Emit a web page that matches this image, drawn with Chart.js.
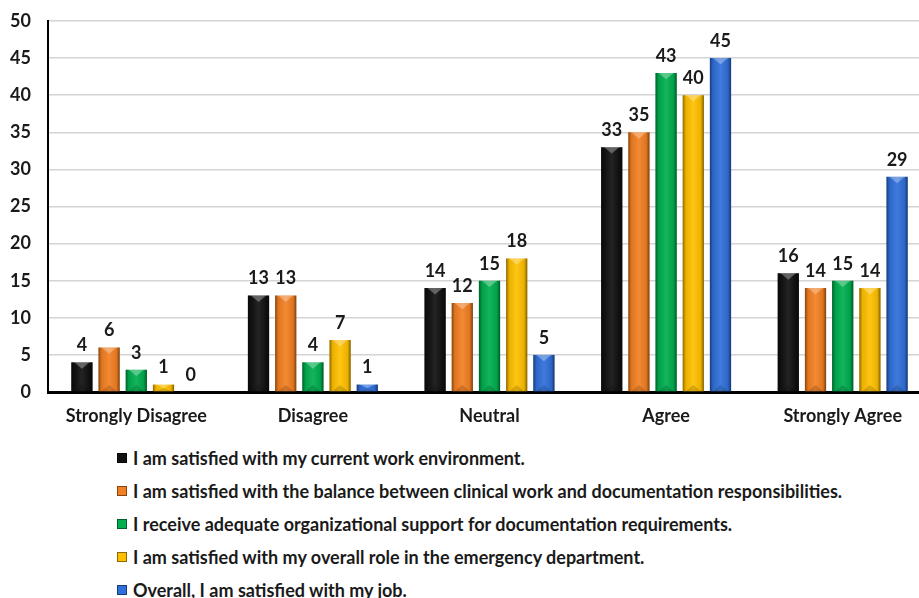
<!DOCTYPE html>
<html>
<head>
<meta charset="utf-8">
<script src="https://cdn.jsdelivr.net/npm/chart.js@4/dist/chart.umd.min.js"></script>
<style>
  html, body { margin: 0; padding: 0; background: #fff; overflow: hidden; width: 919px; height: 598px; }
  #wrap { position: relative; width: 931px; height: 432px; }
  #legend { margin: 9px 0 0 117px; font-family: Lato, "Open Sans", sans-serif; font-weight: bold; font-size: 18px; color: #1a1a1a; }
  .item { display: flex; align-items: center; height: 33px; white-space: nowrap; }
  .box { width: 10px; height: 10px; margin-right: 6px; box-sizing: border-box; border: 1px solid rgba(0,0,0,0.45); }
</style>
</head>
<body>
<div id="wrap"><canvas id="chart"></canvas></div>
<div id="legend"></div>
<script>
const categories = ['Strongly Disagree', 'Disagree', 'Neutral', 'Agree', 'Strongly Agree'];
const seriesLabels = [
    'I am satisfied with my current work environment.',
    'I am satisfied with the balance between clinical work and documentation responsibilities.',
    'I receive adequate organizational support for documentation requirements.',
    'I am satisfied with my overall role in the emergency department.',
    'Overall, I am satisfied with my job.'
];
const workEnvironment = [4, 13, 14, 33, 16];
const clinicalBalance = [6, 13, 12, 35, 14];
const orgSupport = [3, 4, 15, 43, 15];
const edRole = [1, 7, 18, 40, 14];
const overallJob = [0, 1, 5, 45, 29];
const seriesColors = ['#111111', '#F27F22', '#00AE4F', '#FFC000', '#2F6FD9'];
const yMin = 0, yMax = 50, yStep = 5;

const FONT = 'Lato, "Open Sans", sans-serif';

// bevelled look: dark side strips, light chevron on top, dark chevron at the base
const bevelPlugin = {
    id: 'bevel',
    afterDatasetsDraw(chart) {
        const ctx = chart.ctx;
        chart.data.datasets.forEach((ds, i) => {
            chart.getDatasetMeta(i).data.forEach(bar => {
                const { x, y, base, width } = bar.getProps(['x', 'y', 'base', 'width'], true);
                const h = base - y;
                if (h <= 0) return;
                const l = x - width / 2, r = x + width / 2;
                const edge = Math.min(3, width / 6);
                const tip = Math.min(width * 0.3, h / 2);
                ctx.save();
                const g = ctx.createLinearGradient(l, 0, r, 0);
                g.addColorStop(0, 'rgba(0,0,0,0.45)');
                g.addColorStop(0.15, 'rgba(0,0,0,0.08)');
                g.addColorStop(0.5, 'rgba(255,255,255,0.08)');
                g.addColorStop(0.85, 'rgba(0,0,0,0.08)');
                g.addColorStop(1, 'rgba(0,0,0,0.5)');
                ctx.fillStyle = g;
                ctx.fillRect(l, y, width, h);
                // top chevron
                ctx.beginPath();
                ctx.moveTo(l + edge, y);
                ctx.lineTo(r - edge, y);
                ctx.lineTo(x, y + tip);
                ctx.closePath();
                ctx.fillStyle = 'rgba(255,255,255,0.3)';
                ctx.fill();
                // bottom chevron
                ctx.beginPath();
                ctx.moveTo(l + edge, base);
                ctx.lineTo(r - edge, base);
                ctx.lineTo(x, base - tip);
                ctx.closePath();
                ctx.fillStyle = 'rgba(0,0,0,0.15)';
                ctx.fill();
                ctx.restore();
            });
        });
    }
};

// value labels above each bar
const valueLabels = {
    id: 'valueLabels',
    afterDatasetsDraw(chart) {
        const ctx = chart.ctx;
        ctx.save();
        ctx.font = 'bold 18px ' + FONT;
        ctx.fillStyle = '#1a1a1a';
        ctx.textAlign = 'center';
        ctx.textBaseline = 'bottom';
        chart.data.datasets.forEach((ds, i) => {
            chart.getDatasetMeta(i).data.forEach((bar, j) => {
                ctx.fillText(String(ds.data[j]), bar.x, bar.y - 8);
            });
        });
        ctx.restore();
    }
};

const seriesData = [workEnvironment, clinicalBalance, orgSupport, edRole, overallJob];

const chart = new Chart(document.getElementById('chart'), {
    type: 'bar',
    data: {
        labels: categories,
        datasets: seriesData.map((d, i) => ({
            label: seriesLabels[i],
            data: d,
            backgroundColor: seriesColors[i],
            borderWidth: 0,
            categoryPercentage: 0.77,
            barPercentage: 0.78
        }))
    },
    options: {
        responsive: true,
        maintainAspectRatio: false,
        animation: false,
        layout: { padding: { top: 21, left: 0, right: 0, bottom: 0 } },
        plugins: {
            legend: { display: false },
            tooltip: { enabled: false }
        },
        scales: {
            x: {
                grid: { display: false, drawTicks: false },
                border: { color: '#000', width: 3 },
                ticks: { color: '#1a1a1a', padding: 13, font: { family: FONT, size: 18, weight: 'bold' } },
                afterFit(scale) { scale.height = 40; scale.paddingLeft = 0; scale.paddingRight = 0; }
            },
            y: {
                min: yMin,
                max: yMax,
                grid: { color: '#d4d4d4', lineWidth: 1.5, drawTicks: false },
                border: { color: '#000', width: 2 },
                ticks: { stepSize: yStep, color: '#1a1a1a', padding: 17, font: { family: FONT, size: 18, weight: 'bold' } },
                afterFit(scale) { scale.width = 48; scale.paddingTop = 0; scale.paddingBottom = 0; }
            }
        }
    },
    plugins: [bevelPlugin, valueLabels]
});

// legend, one series per row
const legendEl = document.getElementById('legend');
seriesLabels.forEach((label, i) => {
    const row = document.createElement('div');
    row.className = 'item';
    const box = document.createElement('span');
    box.className = 'box';
    box.style.background = seriesColors[i];
    const txt = document.createElement('span');
    txt.textContent = label;
    row.appendChild(box);
    row.appendChild(txt);
    legendEl.appendChild(row);
});
</script>
</body>
</html>
